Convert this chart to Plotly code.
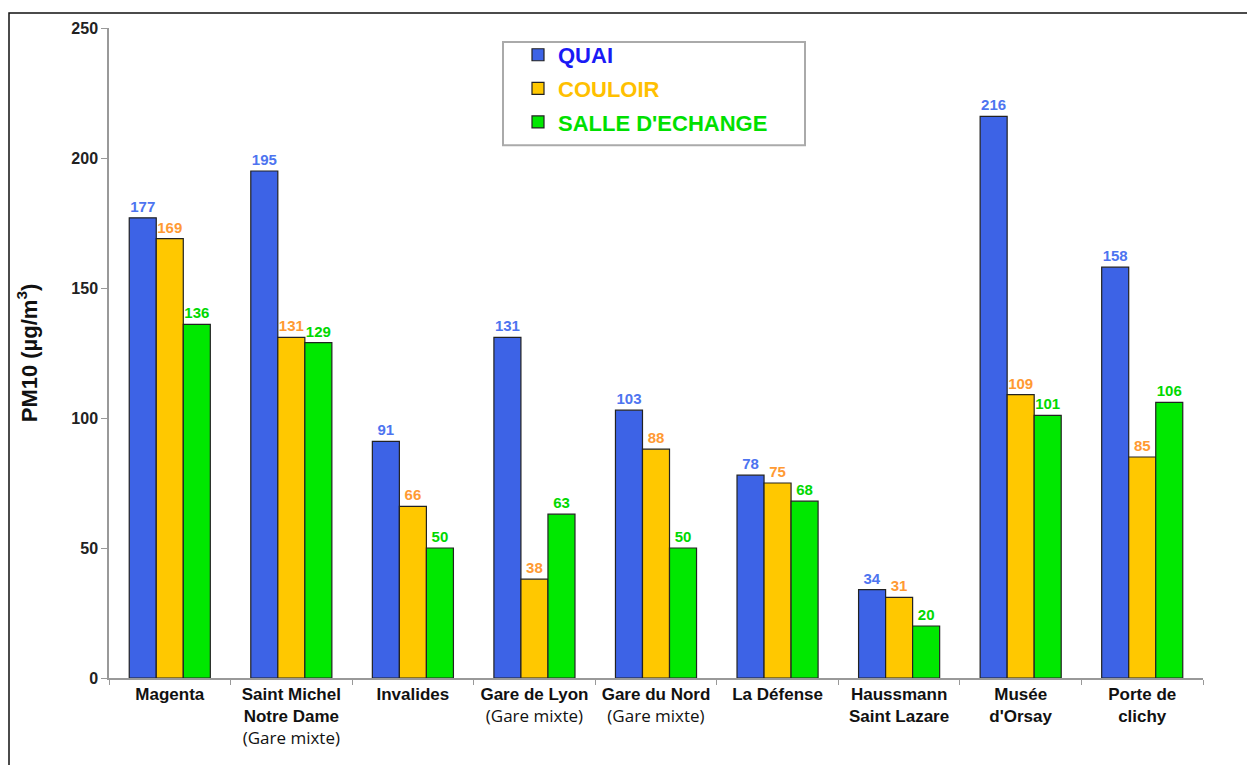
import plotly.graph_objects as go

categories = [
    "<b>Magenta</b>",
    "<b>Saint Michel<br>Notre Dame</b><br><span style='font-family:Open Sans;font-size:17px'>(Gare mixte)</span>",
    "<b>Invalides</b>",
    "<b>Gare de Lyon</b><br><span style='font-family:Open Sans;font-size:17px'>(Gare mixte)</span>",
    "<b>Gare du Nord</b><br><span style='font-family:Open Sans;font-size:17px'>(Gare mixte)</span>",
    "<b>La Défense</b>",
    "<b>Haussmann<br>Saint Lazare</b>",
    "<b>Musée<br>d'Orsay</b>",
    "<b>Porte de<br>clichy</b>",
]
quai = [177, 195, 91, 131, 103, 78, 34, 216, 158]
couloir = [169, 131, 66, 38, 88, 75, 31, 109, 85]
salle = [136, 129, 50, 63, 50, 68, 20, 101, 106]
y_ticks = [0, 50, 100, 150, 200, 250]

series = [
    ("QUAI", quai, "#3D63E6", "#1A1AF5", "#4D74F0"),
    ("COULOIR", couloir, "#FFC800", "#FFC000", "#FF9A33"),
    ("SALLE D'ECHANGE", salle, "#00E800", "#00E000", "#00D800"),
]

W, H = 1247, 757
L, T, PW, PH = 101, 16, 1094, 654

fig = go.Figure()
for name, vals, fill, legc, labc in series:
    fig.add_trace(go.Bar(
        x=categories, y=vals,
        name=f"<span style='color:{legc}'><b>{name}</b></span>",
        marker=dict(color=fill, line=dict(color="#222222", width=1.2)),
        text=[str(v) for v in vals], textposition="outside",
        textfont=dict(color=labc, size=15, family="Arial"),
        texttemplate="<b>%{text}</b>",
        cliponaxis=False,
        legendgroup=name,
    ))

fig.update_layout(
    width=W, height=H,
    margin=dict(l=L, r=W - L - PW, t=T, b=H - T - PH),
    paper_bgcolor="white", plot_bgcolor="white",
    barmode="group", bargap=0.333, bargroupgap=0,
    font=dict(family="Arial", color="#111111"),
    showlegend=True,
    legend=dict(x=(518 - 8 - L) / PW, y=(PH + T - 22) / PH, xanchor="left", yanchor="top",
                bgcolor="rgba(0,0,0,0)", borderwidth=0,
                font=dict(size=22, family="Arial"),
                tracegroupgap=2, itemwidth=30),
    xaxis=dict(
        tickson="boundaries", ticks="outside", ticklen=5, tickcolor="#999999",
        showline=True, linecolor="#999999", linewidth=1.5,
        tickfont=dict(size=17, family="Arial", color="#111111"),
        showgrid=False,
    ),
    yaxis=dict(
        range=[0, 250], tickvals=y_ticks, ticks="outside", ticklen=6,
        tickcolor="#999999", showline=True, linecolor="#999999", linewidth=1.5,
        tickfont=dict(size=16, family="Arial", color="#222222"),
        ticktext=[f"<b>{t}</b>" for t in y_ticks],
        tickmode="array",
        showgrid=False, zeroline=False,
        title=dict(text="<b>PM10 (µg/m<sup>3</sup>)</b>",
                   font=dict(size=22, family="Arial", color="#111111"),
                   standoff=28),
    ),
    shapes=[
        dict(type="rect", xref="paper", yref="paper",
             x0=(503 - 8 - L) / PW, x1=(805 - 8 - L) / PW,
             y0=(PH + T - (142 - 8)) / PH, y1=(PH + T - (38 - 8)) / PH,
             line=dict(color="#AAAAAA", width=2), fillcolor="white", layer="below"),
        dict(type="rect", xref="paper", yref="paper",
             x0=(1 - L) / PW, x1=(W - 1 - L) / PW,
             y0=(PH + T - (H + 20)) / PH, y1=(PH + T - 1) / PH,
             line=dict(color="#111111", width=1.5), fillcolor="rgba(0,0,0,0)", layer="below"),
    ],
)

fig.write_html("out.html")
